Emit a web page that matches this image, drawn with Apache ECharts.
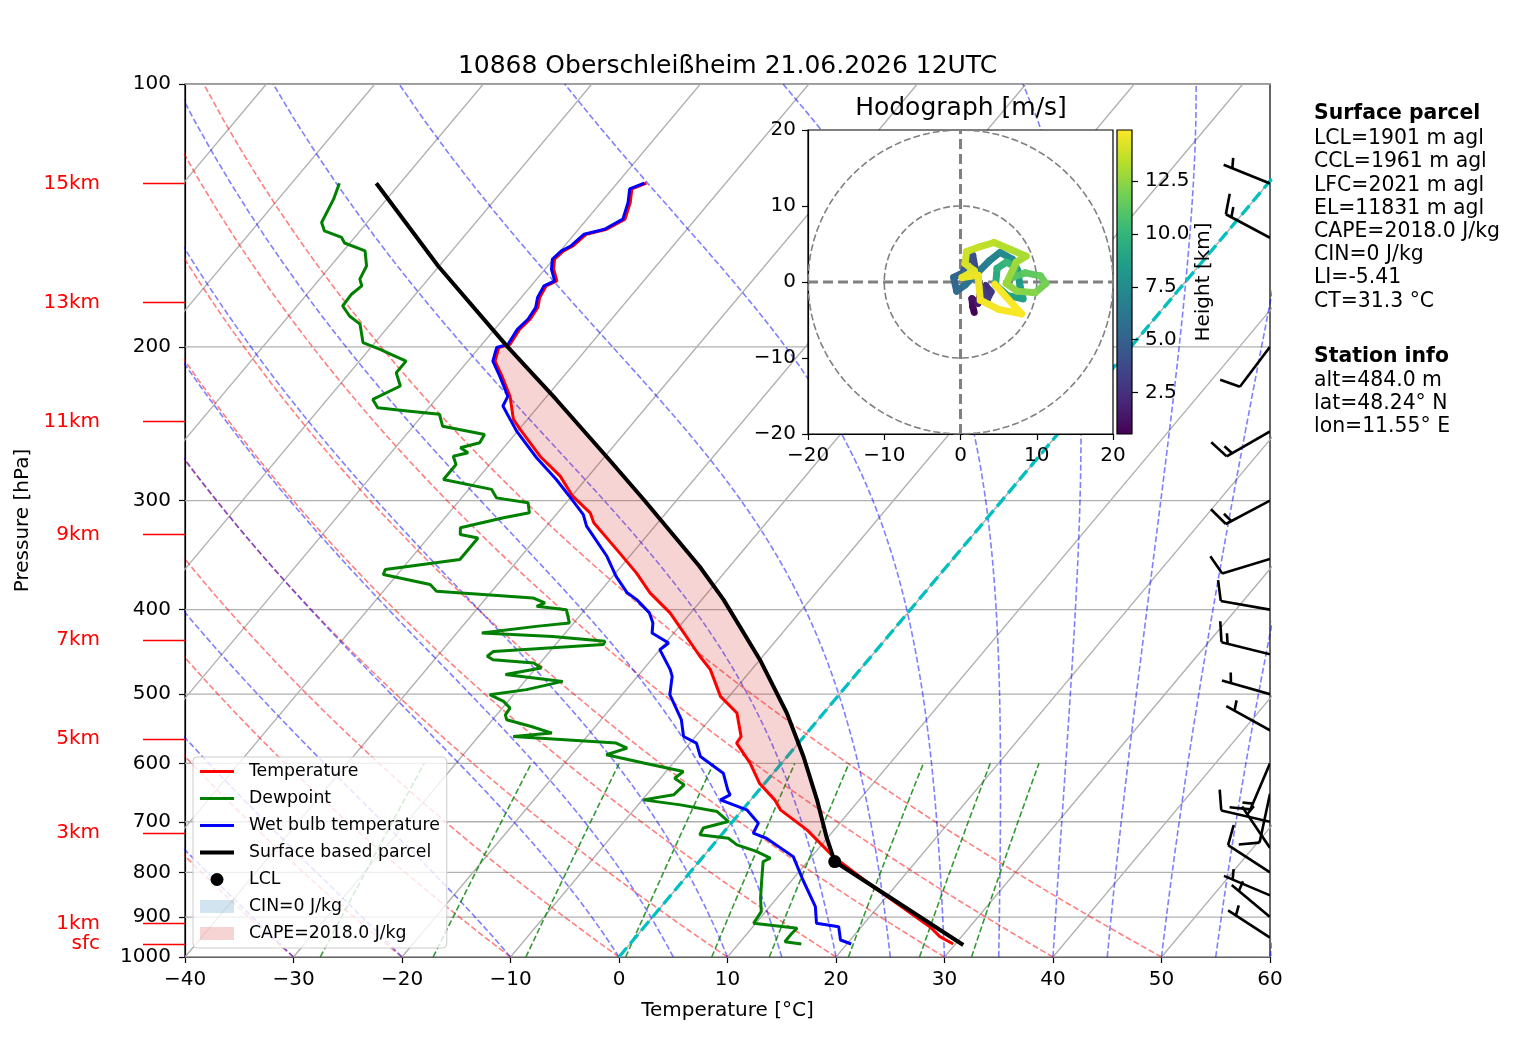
<!DOCTYPE html>
<html>
<head>
<meta charset="utf-8">
<title>10868 Oberschleißheim skew-T</title>
<script src="https://cdn.jsdelivr.net/npm/echarts@6.0.0/dist/echarts.min.js"></script>
<style>
  html, body { margin: 0; padding: 0; background: #fff; }
  #chart { width: 1517px; height: 1042px; }
</style>
</head>
<body>
<div id="chart"></div>
<script>
const FONT = 'DejaVu Sans';
const SKEW = 67.5;   // deg C of skew per decade of pressure

// sounding, [pressure hPa, deg C]
const TEMPERATURE = [
  [129.9,-57.3],[131.9,-58.2],[136.7,-57.3],[142.8,-56.5],[146.7,-57.4],[148.6,-58.9],[153.2,-59.2],
  [155.3,-59.7],[158.7,-59.9],[163.0,-59.2],[168.1,-58.0],[170.3,-58.6],[175.6,-58.3],[180.3,-57.7],
  [186.0,-57.5],[191.0,-57.7],[198.7,-57.4],[200.4,-58.2],[207.7,-57.5],[216.1,-55.7],[227.9,-53.4],
  [242.2,-51.3],[248.7,-49.9],[266.9,-46.0],[281.3,-42.6],[296.6,-39.9],[309.9,-37.0],[318.1,-35.9],
  [344.4,-31.2],[363.1,-28.1],[382.7,-25.3],[403.5,-21.9],[418.1,-20.0],[452.4,-15.8],[468.6,-13.8],
  [502.9,-10.8],[525.4,-8.0],[559.0,-5.8],[568.8,-5.7],[599.8,-2.9],[632.2,-0.5],[660.7,2.2],
  [678.3,3.5],[715.2,7.5],[767.4,12.0],[830.7,18.0],[923.1,26.3],[947.8,28.0],[966.3,29.8]
];
const WETBULB = [
  [129.9,-57.5],[131.9,-58.4],[136.7,-57.5],[142.8,-56.7],[146.7,-57.6],[148.6,-59.1],[153.2,-59.4],
  [155.3,-59.9],[158.7,-60.1],[163.0,-59.4],[168.1,-58.2],[170.3,-58.8],[175.6,-58.5],[180.3,-57.9],
  [186.0,-57.7],[191.0,-57.9],[198.7,-57.6],[200.4,-58.4],[207.7,-57.7],[216.1,-55.9],[227.9,-53.6],
  [233.8,-53.3],[242.2,-51.6],[249.8,-50.1],[268.0,-46.2],[283.8,-42.7],[296.6,-40.2],[311.3,-37.5],
  [321.0,-36.3],[347.5,-32.1],[366.4,-29.7],[382.7,-27.4],[389.6,-26.0],[403.5,-23.8],[414.4,-22.7],
  [425.5,-22.0],[436.9,-19.7],[444.6,-20.0],[468.6,-17.5],[477.0,-16.8],[500.6,-15.6],[534.8,-12.6],
  [559.0,-11.1],[568.8,-9.4],[589.3,-8.0],[615.8,-4.6],[643.5,-2.9],[652.0,-2.3],[660.7,-2.8],
  [678.3,0.4],[702.6,2.5],[721.4,2.8],[731.1,4.4],[767.4,8.3],[816.2,11.0],[875.5,14.2],
  [915.0,15.6],[923.1,17.9],[956.1,19.1],[966.3,20.4]
];
const DEWPOINT = [
  [129.9,-85.6],[135.5,-84.9],[144.1,-84.2],[147.3,-83.3],[149.9,-81.2],[152.1,-80.5],[155.3,-78.0],
  [161.6,-76.7],[167.3,-76.3],[170.3,-75.6],[174.1,-75.9],[179.6,-75.8],[184.4,-74.4],[188.4,-72.8],
  [197.8,-71.1],[201.4,-69.0],[207.7,-65.7],[214.2,-65.7],[221.8,-64.3],[229.8,-65.8],[234.9,-64.7],
  [237.0,-61.5],[239.0,-58.5],[246.6,-57.3],[252.0,-52.8],[257.6,-52.6],[261.0,-54.0],[264.5,-52.9],
  [266.9,-54.0],[272.8,-53.1],[283.8,-53.1],[291.3,-47.9],[297.9,-46.8],[301.8,-43.5],[309.9,-42.6],
  [314.0,-44.6],[322.4,-47.8],[328.1,-47.3],[331.1,-45.4],[342.9,-45.4],[350.5,-45.4],[359.9,-51.5],
  [364.6,-51.3],[374.4,-46.2],[381.1,-45.1],[387.9,-35.7],[393.0,-34.2],[396.6,-34.7],[400.1,-31.7],
  [414.4,-30.4],[418.1,-33.2],[425.5,-37.7],[429.3,-30.9],[434.9,-25.7],[438.7,-25.6],[446.7,-35.2],
  [452.4,-35.4],[456.5,-34.6],[460.4,-30.6],[466.6,-29.5],[474.8,-32.3],[483.4,-26.5],[494.0,-29.2],
  [500.6,-32.2],[509.6,-30.4],[518.6,-29.3],[527.9,-29.2],[534.8,-28.7],[544.5,-25.9],[554.0,-23.5],
  [559.0,-26.8],[568.8,-16.8],[576.5,-15.4],[586.6,-16.8],[599.8,-12.6],[613.2,-8.4],[624.0,-8.7],
  [635.1,-7.3],[652.0,-7.5],[660.7,-9.9],[669.5,-6.1],[681.4,-2.2],[699.5,-0.4],[711.7,-2.2],
  [724.5,-2.0],[731.1,0.9],[743.9,2.2],[757.0,4.5],[770.4,6.3],[777.4,5.9],[816.2,7.2],
  [856.3,8.5],[887.1,9.6],[915.0,9.8],[927.0,14.2],[939.3,14.1],[960.4,14.1],[966.3,15.8]
];
const PARCEL = [
  [129.9,-82.2],[161.6,-70.1],[199.5,-57.6],[229.8,-48.9],[266.9,-39.9],[299.2,-33.1],[356.8,-22.8],
  [389.6,-18.0],[456.5,-10.0],[525.4,-3.4],[589.3,1.5],[660.7,6.1],[727.8,9.8],[777.4,12.5],[968.8,30.8]
];
const LCL = [777.4, 12.5];
const EL_P = 199;
const LFC_P = 770;

// wind barbs at the right edge
const BARB_P   = [130, 150, 200, 250, 300, 350, 400, 450, 500, 550, 600, 650, 700, 750, 800, 850, 900, 950];
const BARB_DIR = [292, 298, 217, 240, 242, 253, 280, 284, 286, 299, 203, 192, 283, 326, 303, 293, 310, 303];
const BARB_KT  = [5, 15, 10, 15, 15, 10, 10, 15, 5, 5, 15, 10, 10, 5, 10, 5, 5, 5];

// hodograph, u/v in m/s, height in km
const HODO_U = [1.8,1.6,1.5,2.3,2.6,3.3,4.0,3.5,2.7,2.0,1.6,0.8,0.3,-0.9,-0.5,0.6,2.0,3.8,5.2,6.8,7.5,7.8,8.2,6.2,4.6,
                4.8,6.0,7.2,6.8,8.5,10.5,11.2,9.8,7.4,6.0,7.3,8.6,6.5,4.4,2.4,0.8,0.6,1.8,0.2,2.3,2.6,5.0,8.0,4.5];
const HODO_V = [-4.0,-3.2,-2.2,-2.8,-1.6,-0.5,-1.3,-2.3,-0.9,1.5,3.5,2.6,1.2,0.6,-1.2,-0.4,1.0,2.8,3.9,3.0,1.5,-0.5,-2.2,-1.8,-0.4,
                1.8,2.6,2.0,0.6,1.2,0.8,-0.2,-1.4,-1.2,-0.2,2.6,3.4,4.3,5.2,4.6,4.0,2.4,1.5,0.6,0.9,-2.4,-3.6,-4.2,-0.3];
const HODO_H = [0.6,0.9,1.2,1.6,2.0,2.4,2.8,3.2,3.6,4.0,4.3,4.6,5.0,5.3,5.6,6.0,6.5,7.0,7.4,7.8,8.2,8.5,8.8,9.1,9.4,
                9.8,10.2,10.6,11.0,11.3,11.6,11.9,12.2,12.5,12.7,12.9,13.1,13.3,13.5,13.7,13.9,14.1,14.3,14.5,14.6,14.7,14.8,14.85,14.9];
const HODO_RINGS = [10, 20];
const CB_MIN = 0.54, CB_MAX = 14.92;
const CB_TICKS = [2.5, 5, 7.5, 10, 12.5];

// axes and background lines
const PRESSURE_TICKS = [100, 200, 300, 400, 500, 600, 700, 800, 900, 1000];
const HEIGHT_LABELS = ['15km', '13km', '11km', '9km', '7km', '5km', '3km', '1km', 'sfc'];
const HEIGHT_P = [130.0, 177.9, 243.7, 328.1, 433.3, 562.8, 721.4, 915.0, 967.0];
const ISOTHERMS = [-100, -90, -80, -70, -60, -50, -40, -30, -20, -10, 0, 10, 20, 30, 40, 50, 60];
const DRY_ADIABATS = [-40, -30, -20, -10, 0, 10, 20, 30, 40, 50];
const MOIST_ADIABATS = [-40, -30, -20, -10, 0, 5, 10, 15, 20, 25, 30, 35, 40, 45, 50, 55, 60];
const MIXING_RATIOS = [0.0004, 0.001, 0.002, 0.004, 0.007, 0.01, 0.016, 0.024, 0.032];

const TITLE = '10868 Oberschleißheim 21.06.2026 12UTC';
const PARCEL_INFO = ['LCL=1901 m agl', 'CCL=1961 m agl', 'LFC=2021 m agl', 'EL=11831 m agl',
                     'CAPE=2018.0 J/kg', 'CIN=0 J/kg', 'LI=-5.41', 'CT=31.3 °C'];
const STATION_INFO = ['alt=484.0 m', 'lat=48.24° N', 'lon=11.55° E'];

const VIRIDIS = ['#440154', '#482878', '#3e4989', '#31688e', '#26828e', '#1f9e89', '#35b779', '#6ece58', '#b5de2b', '#fde725'];

// --- thermodynamics for the background lines ---
const Rd = 287.04749, Lv = 2.50084e6, Cpd = 1004.6662, EPS = 0.62196, KAPPA = Rd / Cpd;

function sk(p, t) { return [t + SKEW * (3 - Math.log10(p)), Math.log10(p)]; }
function satVap(tK) { return 6.112 * Math.exp(17.67 * (tK - 273.15) / (tK - 29.65)); }
function dTdp(p, t) {
  const es = satVap(t);
  const rs = EPS * es / (p - es);
  return ((Rd * t + Lv * rs) / (Cpd + Lv * Lv * rs * EPS / (Rd * t * t))) / p;
}
function levels(p0, p1, step) {
  const out = [];
  for (let p = p0; p >= p1; p -= step) out.push(p);
  return out;
}
function dryAdiabat(t0) {
  return levels(1000, 100, 10).map(p => sk(p, (t0 + 273.15) * Math.pow(p / 1000, KAPPA) - 273.15));
}
function moistAdiabat(t0) {
  let t = t0 + 273.15, p = 1000;
  const pts = [sk(p, t0)];
  const dp = -10;
  for (let i = 0; i < 90; i++) {
    const k1 = dTdp(p, t);
    const k2 = dTdp(p + dp / 2, t + dp / 2 * k1);
    const k3 = dTdp(p + dp / 2, t + dp / 2 * k2);
    const k4 = dTdp(p + dp, t + dp * k3);
    t += dp / 6 * (k1 + 2 * k2 + 2 * k3 + k4);
    p += dp;
    if (!isFinite(t)) break;
    pts.push(sk(p, t - 273.15));
  }
  return pts;
}
function mixingLine(w) {
  return levels(1000, 600, 10).map(p => {
    const e = p * w / (EPS + w);
    const a = Math.log(e / 6.112);
    return sk(p, 243.5 * a / (17.67 - a));
  });
}

function bg(name, data, style, z) {
  return {
    type: 'line', name: name, data: data, xAxisIndex: 0, yAxisIndex: 0,
    symbol: 'none', silent: true, clip: true, z: z || 1, lineStyle: style
  };
}

const series = [];
PRESSURE_TICKS.forEach(p => series.push(bg('pgrid', [[-40, Math.log10(p)], [60, Math.log10(p)]], { color: '#b0b0b0', width: 1.3 })));
ISOTHERMS.forEach(t => series.push(bg('isotherm', [sk(1000, t), sk(100, t)], { color: '#b0b0b0', width: 1.3 })));
DRY_ADIABATS.forEach(t => series.push(bg('dry', dryAdiabat(t), { color: 'rgba(255,0,0,0.5)', width: 1.6, type: [6, 2.7] })));
MOIST_ADIABATS.forEach(t => series.push(bg('moist', moistAdiabat(t), { color: 'rgba(0,0,255,0.5)', width: 1.6, type: [6, 2.7] })));
MIXING_RATIOS.forEach(w => series.push(bg('mixing', mixingLine(w), { color: 'rgba(0,128,0,0.8)', width: 1.6, type: [6, 2.7] })));
series.push(bg('zero', [sk(1000, 0), sk(100, 0)], { color: '#00bfbf', width: 3.3, type: [12, 5.3] }, 2));

// CAPE area between parcel and environment
const capeVerts = [];
PARCEL.forEach(d => { if (d[0] >= EL_P && d[0] <= LFC_P) capeVerts.push(sk(d[0], d[1])); });
for (let i = TEMPERATURE.length - 1; i >= 0; i--) {
  const d = TEMPERATURE[i];
  if (d[0] >= EL_P && d[0] <= LFC_P) capeVerts.push(sk(d[0], d[1]));
}
series.push({
  type: 'custom', name: 'CAPE=2018.0 J/kg', xAxisIndex: 0, yAxisIndex: 0, clip: true, z: 3, silent: true,
  itemStyle: { color: 'rgba(214,39,40,0.2)' },
  data: [[0, 2.5]],
  renderItem: function (params, api) {
    return {
      type: 'polygon',
      shape: { points: capeVerts.map(v => api.coord(v)) },
      style: { fill: 'rgba(214,39,40,0.2)' }
    };
  }
});
series.push({
  type: 'custom', name: 'CIN=0 J/kg', xAxisIndex: 0, yAxisIndex: 0, z: 3, silent: true,
  itemStyle: { color: 'rgba(31,119,180,0.2)' }, data: [],
  renderItem: function () { return null; }
});

function profile(name, arr, color, width, z) {
  return {
    type: 'line', name: name, xAxisIndex: 0, yAxisIndex: 0, symbol: 'none', clip: true, z: z,
    data: arr.map(d => sk(d[0], d[1])),
    itemStyle: { color: color }, lineStyle: { color: color, width: width }
  };
}
series.push(profile('Temperature', TEMPERATURE, '#ff0000', 3, 4));
series.push(profile('Dewpoint', DEWPOINT, '#008000', 3, 4));
series.push(profile('Wet bulb temperature', WETBULB, '#0000ff', 3, 4));
series.push(profile('Surface based parcel', PARCEL, '#000000', 4, 5));
series.push({
  type: 'scatter', name: 'LCL', xAxisIndex: 0, yAxisIndex: 0, z: 6,
  symbol: 'circle', symbolSize: 13, itemStyle: { color: '#000', opacity: 1 },
  data: [sk(LCL[0], LCL[1])]
});

// wind barbs
series.push({
  type: 'custom', name: 'barbs', xAxisIndex: 0, yAxisIndex: 0, clip: true, z: 5, silent: true,
  data: BARB_P.map((p, i) => [60, Math.log10(p), BARB_KT[i], BARB_DIR[i]]),
  renderItem: function (params, api) {
    const b = api.coord([api.value(0), api.value(1)]);
    const kt = Math.round(api.value(2) / 5) * 5;
    const d = api.value(3) * Math.PI / 180;
    const L = 50;
    const hx = Math.sin(d), hy = -Math.cos(d);   // staff direction on screen
    const qx = Math.cos(d), qy = Math.sin(d);    // feather side
    const at = s => [b[0] + s * hx, b[1] + s * hy];
    const lines = [[b, at(L)]];
    const full = Math.floor(kt / 10);
    const half = (kt % 10) >= 5;
    let off = L;
    const sp = 0.125 * L;
    for (let i = 0; i < full; i++) {
      const s = at(off);
      lines.push([s, [s[0] + 0.4 * L * qx + 0.125 * L * hx, s[1] + 0.4 * L * qy + 0.125 * L * hy]]);
      off -= sp;
    }
    if (half) {
      if (off === L) off -= 1.5 * sp;
      const s = at(off);
      lines.push([s, [s[0] + 0.2 * L * qx + 0.0625 * L * hx, s[1] + 0.2 * L * qy + 0.0625 * L * hy]]);
    }
    return {
      type: 'group',
      children: lines.map(pts => ({
        type: 'polyline', shape: { points: pts },
        style: { stroke: '#000', lineWidth: 2.6, fill: null }
      }))
    };
  }
});

// hodograph
const ringPts = r => { const a = []; for (let k = 0; k <= 360; k += 4) a.push([r * Math.cos(k * Math.PI / 180), r * Math.sin(k * Math.PI / 180)]); return a; };
HODO_RINGS.forEach(r => series.push({
  type: 'line', name: 'ring', xAxisIndex: 1, yAxisIndex: 2, symbol: 'none', silent: true, clip: true, z: 12,
  data: ringPts(r), lineStyle: { color: '#808080', width: 1.6, type: [7, 3] }
}));
[[[0, -20], [0, 20]], [[-20, 0], [20, 0]]].forEach(seg => series.push({
  type: 'line', name: 'cross', xAxisIndex: 1, yAxisIndex: 2, symbol: 'none', silent: true, clip: true, z: 12,
  data: seg, lineStyle: { color: '#808080', width: 3, type: [10, 5] }
}));
const hodoIndex = series.length;
const hodoSegs = [];
for (let i = 0; i < HODO_U.length - 1; i++) hodoSegs.push([HODO_U[i], HODO_V[i], HODO_H[i], HODO_U[i + 1], HODO_V[i + 1]]);
series.push({
  type: 'custom', name: 'hodograph', xAxisIndex: 1, yAxisIndex: 2, clip: true, z: 13, silent: true,
  data: hodoSegs,
  renderItem: function (params, api) {
    const a = api.coord([api.value(0), api.value(1)]);
    const c = api.coord([api.value(3), api.value(4)]);
    return {
      type: 'line', shape: { x1: a[0], y1: a[1], x2: c[0], y2: c[1] },
      style: { stroke: api.visual('color'), lineWidth: 7, lineCap: 'round' }
    };
  }
});
// colorbar
series.push({
  type: 'custom', name: 'colorbar', xAxisIndex: 2, yAxisIndex: 3, z: 12, silent: true,
  data: [[0.5, CB_MIN]],
  renderItem: function (params, api) {
    const p0 = api.coord([0, CB_MAX]);
    const p1 = api.coord([1, CB_MIN]);
    return {
      type: 'rect',
      shape: { x: p0[0], y: p0[1], width: p1[0] - p0[0], height: p1[1] - p0[1] },
      style: {
        stroke: '#000', lineWidth: 1.2,
        fill: new echarts.graphic.LinearGradient(0, 1, 0, 0, VIRIDIS.map((c, i) => ({ offset: i / (VIRIDIS.length - 1), color: c })))
      }
    };
  }
});

const minus = v => (v < 0 ? '\u2212' + Math.abs(v) : String(v));
const txt = { fontFamily: FONT, color: '#000', fontSize: 20 };
const PT_LOG = PRESSURE_TICKS.map(p => Math.log10(p));
const HP_LOG = HEIGHT_P.map(p => Math.log10(p));

const graphics = [
  { type: 'text', x: 727.5, y: 66, z: 20, style: { text: TITLE, fontFamily: FONT, fontSize: 25, fill: '#000', align: 'center', verticalAlign: 'middle' } },
  { type: 'text', x: 961, y: 108, z: 20, style: { text: 'Hodograph [m/s]', fontFamily: FONT, fontSize: 25, fill: '#000', align: 'center', verticalAlign: 'middle' } },
  { type: 'text', x: 1314, y: 114, z: 20, style: { text: 'Surface parcel', fontFamily: FONT, fontSize: 20.4, fontWeight: 'bold', fill: '#000', verticalAlign: 'middle' } },
  { type: 'text', x: 1314, y: 357, z: 20, style: { text: 'Station info', fontFamily: FONT, fontSize: 20.4, fontWeight: 'bold', fill: '#000', verticalAlign: 'middle' } }
];
PARCEL_INFO.forEach((s, i) => graphics.push({ type: 'text', x: 1314, y: 139 + i * 23.2, z: 20, style: { text: s, fontFamily: FONT, fontSize: 20.4, fill: '#000', verticalAlign: 'middle' } }));
STATION_INFO.forEach((s, i) => graphics.push({ type: 'text', x: 1314, y: 381 + i * 22.7, z: 20, style: { text: s, fontFamily: FONT, fontSize: 20.4, fill: '#000', verticalAlign: 'middle' } }));

const LINE_ICON = 'path://M0,0L34,0L34,3L0,3Z';
const THICK_ICON = 'path://M0,0L34,0L34,4L0,4Z';

const option = {
  animation: false,
  backgroundColor: '#fff',
  textStyle: { fontFamily: FONT },
  grid: [
    { left: 185, top: 84, width: 1085, height: 873, show: true, borderColor: '#000', borderWidth: 1.2, backgroundColor: 'transparent' },
    { left: 808, top: 130, width: 305, height: 304, show: true, borderColor: '#000', borderWidth: 1.2, backgroundColor: '#fff', z: 10 },
    { left: 1117, top: 130, width: 15, height: 304, show: false, z: 10 }
  ],
  xAxis: [
    {
      type: 'value', gridIndex: 0, min: -40, max: 60, interval: 10,
      axisLine: { onZero: false, lineStyle: { color: '#000', width: 1.2 } },
      axisTick: { length: 6, lineStyle: { color: '#000', width: 1.2 } },
      axisLabel: Object.assign({ margin: 13, formatter: minus, showMinLabel: true, showMaxLabel: true }, txt),
      splitLine: { show: false },
      name: 'Temperature [°C]', nameLocation: 'middle', nameGap: 44, nameTextStyle: txt
    },
    {
      type: 'value', gridIndex: 1, min: -20, max: 20, interval: 10, z: 11,
      axisLine: { onZero: false, lineStyle: { color: '#000', width: 1.2 } },
      axisTick: { length: 6, lineStyle: { color: '#000', width: 1.2 } },
      axisLabel: Object.assign({ margin: 12, formatter: minus }, txt),
      splitLine: { show: false }
    },
    { type: 'value', gridIndex: 2, min: 0, max: 1, show: false }
  ],
  yAxis: [
    {
      type: 'value', gridIndex: 0, min: 2, max: 3, inverse: true, position: 'left',
      axisLine: { onZero: false, lineStyle: { color: '#000', width: 1.2 } },
      axisTick: { customValues: PT_LOG, length: 6, lineStyle: { color: '#000', width: 1.2 } },
      axisLabel: Object.assign({ customValues: PT_LOG, margin: 14, formatter: v => String(Math.round(Math.pow(10, v))) }, txt),
      splitLine: { show: false },
      name: 'Pressure [hPa]', nameLocation: 'middle', nameGap: 152, nameTextStyle: txt
    },
    {
      type: 'value', gridIndex: 0, min: 2, max: 3, inverse: true, position: 'left', offset: 0,
      axisLine: { show: false, onZero: false },
      axisTick: { customValues: HP_LOG, length: 42, lineStyle: { color: '#ff0000', width: 1.3 } },
      axisLabel: {
        customValues: HP_LOG, margin: 85, color: '#ff0000', fontSize: 20, fontFamily: FONT,
        formatter: v => { const i = HP_LOG.findIndex(h => Math.abs(h - v) < 1e-6); return i >= 0 ? HEIGHT_LABELS[i] : ''; }
      },
      splitLine: { show: false }
    },
    {
      type: 'value', gridIndex: 1, min: -20, max: 20, interval: 10, z: 11,
      axisLine: { onZero: false, lineStyle: { color: '#000', width: 1.2 } },
      axisTick: { length: 6, lineStyle: { color: '#000', width: 1.2 } },
      axisLabel: Object.assign({ margin: 12, formatter: minus }, txt),
      splitLine: { show: false }
    },
    {
      type: 'value', gridIndex: 2, min: CB_MIN, max: CB_MAX, position: 'right', z: 11,
      axisLine: { show: false, onZero: false },
      axisTick: { customValues: CB_TICKS, length: 6, lineStyle: { color: '#000', width: 1.2 } },
      axisLabel: Object.assign({ customValues: CB_TICKS, margin: 13, formatter: v => v.toFixed(1) }, txt),
      splitLine: { show: false },
      name: 'Height [km]', nameLocation: 'middle', nameGap: 51, nameRotate: 90, nameTextStyle: txt
    }
  ],
  visualMap: [{
    type: 'continuous', show: false, seriesIndex: hodoIndex, dimension: 2,
    min: CB_MIN, max: CB_MAX, inRange: { color: VIRIDIS }
  }],
  legend: {
    data: [
      { name: 'Temperature', icon: LINE_ICON }, { name: 'Dewpoint', icon: LINE_ICON },
      { name: 'Wet bulb temperature', icon: LINE_ICON },
      { name: 'Surface based parcel', icon: THICK_ICON }, { name: 'LCL', icon: 'circle' },
      { name: 'CIN=0 J/kg', icon: 'rect' }, { name: 'CAPE=2018.0 J/kg', icon: 'rect' }
    ],
    orient: 'vertical', left: 193, top: 757, z: 20,
    itemWidth: 34, itemHeight: 13, itemGap: 10,
    padding: [6, 7, 6, 7],
    backgroundColor: 'rgba(255,255,255,0.8)', borderColor: '#cccccc', borderWidth: 1, borderRadius: 4,
    selectedMode: false,
    textStyle: { fontSize: 17.3, color: '#000', fontFamily: FONT, padding: [0, 0, 0, 10] }
  },
  graphic: graphics,
  series: series
};

const chart = echarts.init(document.getElementById('chart'));
chart.setOption(option);
</script>
</body>
</html>
